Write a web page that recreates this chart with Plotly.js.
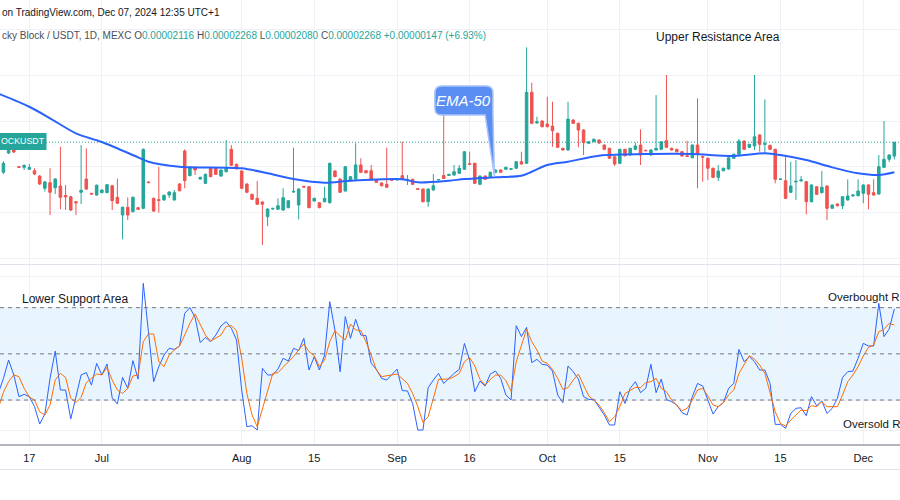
<!DOCTYPE html>
<html>
<head>
<meta charset="utf-8">
<script src="https://cdn.plot.ly/plotly-3.0.1.min.js"></script>
<style>html,body{margin:0;padding:0;background:#fff;}#chart{width:900px;height:500px;}</style>
</head>
<body>
<div id="chart"></div>
<script>
// ---- data (prices in units of 1e-6 USDT), bar index 0 = Jun 17 ----
const firstBar = -5;
const openP = [19.39,21.50,22.37,20.00,19.93,19.72,19.56,18.98,17.64,18.25,17.70,17.89,16.85,16.72,16.17,17.20,18.65,17.09,16.90,17.16,17.16,17.92,16.65,14.72,15.56,15.08,15.52,15.45,18.33,16.54,16.39,16.36,16.90,16.36,18.11,21.72,19.02,19.93,18.65,18.18,19.86,19.86,18.98,19.45,21.90,20.26,19.53,18.11,16.98,16.54,16.14,14.53,15.37,15.34,15.26,15.52,17.23,15.81,17.85,17.81,16.25,16.06,16.17,16.06,19.53,18.65,17.34,18.47,18.65,20.19,19.56,19.56,18.55,18.22,18.07,18.58,18.55,19.02,18.52,18.62,17.60,17.56,16.17,17.45,18.55,19.04,19.04,19.09,19.28,19.72,20.33,20.37,18.07,18.98,18.91,19.39,19.64,19.72,19.72,19.83,20.55,20.37,28.14,24.78,25.00,24.67,24.45,23.65,22.01,21.83,25.11,24.75,24.02,22.56,22.74,22.92,22.37,22.01,21.09,20.37,21.90,21.28,21.90,22.37,21.79,21.28,21.83,21.90,22.84,22.01,21.90,21.64,21.20,20.98,22.37,21.12,20.92,19.83,18.84,19.56,19.75,20.92,21.36,22.81,22.12,22.27,23.47,22.45,22.34,21.90,18.62,18.47,17.20,18.33,18.44,18.36,16.17,17.81,17.16,17.89,15.45,15.92,15.73,16.36,16.80,16.83,17.09,18.00,17.16,17.01,19.93,20.81,21.16];
const highP = [20.62,22.92,22.92,20.08,20.24,20.30,19.83,19.09,18.44,19.83,18.76,22.19,18.00,16.80,16.25,22.37,22.01,17.12,18.05,17.52,18.10,18.00,18.69,15.65,16.65,16.75,15.60,22.00,18.40,16.62,20.00,16.95,17.30,17.45,18.20,21.90,20.02,20.02,18.90,19.25,19.95,19.95,19.72,22.92,22.37,20.35,19.60,18.20,17.05,18.44,16.22,15.45,15.50,16.54,17.64,16.36,22.08,17.65,17.90,17.90,16.62,16.14,17.81,20.45,19.60,18.73,20.08,18.98,22.56,20.92,19.63,20.19,18.62,18.30,22.08,18.62,18.70,22.74,19.09,18.70,17.60,17.60,17.62,19.20,18.65,26.02,19.25,20.19,20.19,21.72,21.64,20.45,19.05,19.05,19.47,19.72,19.72,20.00,19.85,20.62,21.64,33.06,29.19,25.47,25.08,27.66,27.11,23.73,22.08,27.11,25.20,24.83,24.10,22.80,23.08,23.00,22.45,22.08,21.15,21.97,21.97,22.08,22.63,24.09,21.85,21.90,27.84,22.80,30.03,22.08,21.97,21.72,22.84,22.45,27.48,21.20,21.00,19.90,20.19,19.90,21.05,21.43,23.03,22.88,22.52,30.03,23.55,27.37,22.40,21.97,18.70,21.20,20.55,20.73,18.98,18.44,18.08,17.88,19.53,17.96,15.88,16.00,16.80,18.62,16.98,18.62,18.08,18.08,18.62,21.28,25.00,21.36,22.68];
const lowP = [19.20,21.39,21.50,19.86,19.64,19.64,19.09,18.00,17.27,14.72,17.01,15.34,15.26,15.15,14.72,15.92,17.45,16.95,16.85,17.10,17.10,15.26,15.93,12.06,14.17,15.00,15.26,15.35,18.20,15.05,14.97,16.28,16.58,16.28,17.30,17.64,18.95,19.09,18.58,18.10,18.85,19.09,18.90,19.38,20.08,19.70,17.55,17.10,16.35,15.80,11.43,13.51,15.30,15.26,15.18,15.45,17.15,14.25,17.70,15.45,16.18,15.45,16.10,15.98,18.85,17.12,17.27,18.40,18.58,19.30,19.27,18.48,18.22,17.85,17.68,18.48,18.50,18.55,18.00,18.00,17.48,16.10,15.62,17.38,18.50,18.65,18.98,19.00,19.20,19.65,20.19,18.10,18.00,18.55,18.85,19.30,19.30,19.65,19.65,19.75,20.22,20.30,24.65,24.70,24.30,24.30,22.19,22.05,21.75,21.75,24.67,22.12,21.28,22.50,22.68,22.50,21.82,20.85,20.08,20.30,21.12,21.20,21.82,20.19,21.70,21.20,21.75,21.82,22.05,21.75,21.55,21.10,21.05,20.90,17.64,18.36,18.55,18.76,18.44,19.50,19.68,20.85,21.30,21.82,22.05,21.83,21.64,21.50,21.82,18.18,18.58,16.45,17.12,16.36,18.40,14.79,16.10,16.90,17.08,14.17,15.38,15.65,15.37,16.28,16.72,16.75,16.00,15.34,16.83,16.93,19.85,20.51,20.80];
const closeP = [20.37,22.26,21.61,19.93,20.15,19.93,19.20,18.11,18.33,17.20,18.65,16.65,16.69,15.26,16.06,17.42,17.56,17.01,17.97,17.45,18.03,16.28,16.00,15.56,14.72,16.65,15.34,21.90,18.26,15.15,16.32,16.87,17.23,17.16,17.37,18.47,19.93,19.64,18.84,19.17,18.91,19.17,19.64,19.89,20.15,19.78,17.64,17.20,16.43,15.89,15.89,15.37,15.44,15.73,16.61,16.28,17.30,17.56,17.78,15.52,16.54,15.52,16.54,20.37,18.91,17.20,20.00,18.91,20.19,19.39,19.34,18.55,18.29,17.92,17.75,18.52,18.65,18.62,18.58,18.07,17.53,16.17,17.56,17.92,18.60,18.71,19.15,19.45,19.83,21.64,20.26,18.18,18.98,18.62,19.39,19.64,19.39,19.93,19.78,20.55,20.30,28.14,24.75,24.92,24.38,24.38,23.94,22.12,21.83,25.22,24.75,24.02,22.63,22.74,23.00,22.59,21.90,20.92,20.30,21.90,21.20,22.01,22.27,21.28,21.75,21.83,22.01,22.74,22.12,21.83,21.64,21.17,21.12,22.37,21.36,21.05,19.83,18.84,19.53,19.83,20.98,21.36,22.81,21.90,22.45,23.28,22.45,22.52,21.90,18.62,18.65,16.54,17.89,18.40,18.55,16.17,18.00,16.98,17.75,15.45,15.81,15.73,16.72,16.80,16.90,17.34,18.00,16.98,16.90,20.00,20.81,21.28,22.68];

// EMA-50 readings (bar index, value)
const emaBars = [-6,0,4,9,14,21,23,29,41,46,51,57,62,72,75,81,84,90,95,97,100,104,110,120,128,136,142,145,150,155,160,164,167];
const emaVals = [28.01,26.56,25.30,23.65,22.70,21.03,20.55,20.00,19.83,19.28,18.65,18.25,18.47,18.62,18.29,18.47,18.65,18.84,19.02,19.45,20.19,20.55,21.20,21.39,21.39,21.17,21.47,21.28,20.73,19.93,19.28,19.09,19.39];

// Stochastic RSI (first value at bar -6)
const stochStart = -6;
const stochK = [24.3,34,46,36.3,22.2,23.7,22.2,15.7,4.4,10.9,34.1,51.8,26.5,26.5,7.7,21.1,36.3,37.8,29.7,43.8,36.3,43.4,21.5,17.4,34.7,27.6,45.6,33.6,95.8,64.4,31.9,41.7,49.2,53.6,52.9,55.1,76.3,80.0,73.7,57.3,60.7,57.9,62.2,68.1,70.9,66.6,59.0,26.5,2.7,3.3,0.5,40.6,36.3,36.3,40.1,47.1,45.3,53.6,52.1,60.1,39.5,48.2,39.5,49.2,83.9,65.5,38.4,74.2,60.1,72.4,62.2,61.8,43.8,39.9,34.1,33.0,36.3,40.1,26.1,25.9,17.8,0.5,0.5,28.0,33.0,37.3,30.8,34.1,37.3,39.9,56.8,46.0,25.4,32.3,29.1,36.9,38.8,34.1,23.3,20.0,68.3,61.2,67.2,44.3,46.4,43.2,42.7,38.8,23.3,18.3,42.1,38.4,33.6,22.2,20.4,20.4,15.7,10.3,3.8,3.8,25.4,17.8,27.6,31.9,24.8,27.6,43.2,24.8,33.6,20.4,18.9,16.8,11.8,10.3,22.2,30.8,29.1,20.0,10.9,15.7,18.3,27.6,30.8,52.9,44.9,48.2,44.9,39.5,39.5,30.8,4.2,4.2,1.6,11.3,14.6,15.0,9.8,22.2,16.3,19.4,11.3,14.6,21.1,34.7,38.4,38.8,47.1,56.8,55.1,55.1,82.8,61.2,66.1,79.1];
const stochD = [14.6,25,32,36.3,35.2,27.6,22.0,20.0,12.4,10.3,16.8,33.0,37.3,34.7,21.1,18.3,21.7,31.3,34.1,36.9,36.3,41.2,33.0,26.5,24.3,27.6,35.6,36.3,57.9,62.9,62.9,44.9,41.7,49.2,52.5,55.1,62.2,69.8,75.9,68.7,62.2,58.3,60.1,62.2,67.7,68.3,65.1,47.1,24.3,10.3,2.7,14.6,25.9,37.3,37.8,41.2,44.9,48.2,52.5,56.4,51.4,48.8,41.7,46.0,57.9,65.1,61.6,59.0,69.4,65.5,65.1,57.9,49.2,39.5,35.2,35.6,36.3,36.9,34.1,30.8,24.3,15.7,5.5,9.2,21.1,33.4,33.6,33.6,35.2,37.3,44.9,47.7,42.1,33.4,29.7,33.4,36.2,36.2,32.6,25.8,44.9,54.7,65.9,57.9,52.5,45.3,43.8,39.9,34.1,26.9,28.0,33.0,36.9,29.7,22.6,20.0,16.8,11.8,5.9,9.2,15.7,24.3,26.5,28.2,28.0,31.3,31.9,34.1,27.6,25.4,20.0,16.3,13.1,14.6,20.0,26.5,27.6,22.6,16.8,15.7,18.3,23.3,26.5,37.3,43.4,48.8,46.6,42.7,37.3,25.4,12.4,4.8,3.1,7.0,10.3,13.5,13.1,16.3,15.7,18.9,15.7,15.7,15.7,23.3,31.9,36.2,41.7,48.6,54.2,55.7,64.4,65.9,69.8,68.7];

// time-axis ticks
const tickBars = [0,14,41,55,71,85,100,114,131,145,161];
const tickLabels = ['17','Jul','Aug','15','Sep','16','Oct','15','Nov','15','Dec'];

// ---- build ----
const bars = openP.map((_, k) => firstBar + k);
const stochBars = stochK.map((_, k) => stochStart + k);
const W = 900, H = 500;
const px = v => v / W, py = v => 1 - v / H;
const FONT = 'Liberation Sans, Arial, sans-serif';
const GRID = '#eef1f6';

const traces = [
  {type:'candlestick', x:bars, open:openP, high:highP, low:lowP, close:closeP,
   xaxis:'x', yaxis:'y', whiskerwidth:0,
   increasing:{line:{color:'#26a69a', width:1}, fillcolor:'#26a69a'},
   decreasing:{line:{color:'#ef5350', width:1}, fillcolor:'#ef5350'},
   hoverinfo:'skip', showlegend:false},
  {type:'scatter', mode:'lines', x:emaBars, y:emaVals, xaxis:'x', yaxis:'y',
   line:{color:'#2962ff', width:2, shape:'spline', smoothing:0.8}, hoverinfo:'skip', showlegend:false},
  {type:'scatter', mode:'lines', x:stochBars, y:stochK, xaxis:'x', yaxis:'y2',
   line:{color:'#2962ff', width:1}, hoverinfo:'skip', showlegend:false},
  {type:'scatter', mode:'lines', x:stochBars, y:stochD, xaxis:'x', yaxis:'y2',
   line:{color:'#ff6d00', width:1}, hoverinfo:'skip', showlegend:false}
];

// callout box (data coords)
const cx0 = 78.3, cx1 = 89.5, cyT = 28.83, cyB = 25.66, rx = 1.3, ry = 0.75;
const tipX = 89.8, tipY = 18.91, baseL = 88.0;
const calloutPath = `M ${cx0+rx},${cyT} L ${cx1-rx},${cyT} Q ${cx1},${cyT} ${cx1},${cyT-ry} L ${cx1},${cyB} L ${tipX},${tipY} L ${baseL},${cyB} L ${cx0+rx},${cyB} Q ${cx0},${cyB} ${cx0},${cyB+ry} L ${cx0},${cyT-ry} Q ${cx0},${cyT} ${cx0+rx},${cyT} Z`;

const lastClose = closeP[closeP.length - 1];
const teal = '#26a69a';

const shapes = [
  {type:'rect', xref:'paper', yref:'y2', x0:0, x1:1, y0:20, y1:80, fillcolor:'rgba(33,150,243,0.1)', line:{width:0}, layer:'below'},
  {type:'line', xref:'paper', yref:'y2', x0:0, x1:1, y0:80, y1:80, line:{color:'#787b86', width:1, dash:'4px,4px'}},
  {type:'line', xref:'paper', yref:'y2', x0:0, x1:1, y0:50, y1:50, line:{color:'#787b86', width:1, dash:'4px,4px'}},
  {type:'line', xref:'paper', yref:'y2', x0:0, x1:1, y0:20, y1:20, line:{color:'#787b86', width:1, dash:'4px,4px'}},
  {type:'line', xref:'paper', yref:'y', x0:px(46), x1:1, y0:lastClose, y1:lastClose, line:{color:teal, width:1, dash:'1px,2px'}},
  {type:'line', xref:'paper', yref:'paper', x0:0, x1:1, y0:py(264.5), y1:py(264.5), line:{color:'#e0e3eb', width:1}},
  {type:'line', xref:'paper', yref:'paper', x0:0, x1:1, y0:py(445), y1:py(445), line:{color:'#b2b5be', width:2}},
  {type:'line', xref:'paper', yref:'paper', x0:0, x1:1, y0:py(469.5), y1:py(469.5), line:{color:'#e0e3eb', width:1}},
  {type:'rect', xref:'paper', yref:'paper', x0:0, x1:px(46.5), y0:py(150), y1:py(133), fillcolor:teal, line:{width:0}},
  {type:'path', xref:'x', yref:'y', path:calloutPath, fillcolor:'#5b8ef2', line:{color:'#a9c4f7', width:1.5}, layer:'above'}
];

const txt = (text, x, y, size, xanchor, extra) => Object.assign({
  text, xref:'paper', yref:'paper', x:px(x), y:py(y), xanchor, yanchor:'middle',
  showarrow:false, font:{family:FONT, size, color:'#131722'}
}, extra || {});

const val = s => '<span style="color:' + teal + '">' + s + '</span>';
const hdr2 = 'cky Block / USDT, 1D, MEXC O' + val('0.00002116') + ' H' + val('0.00002268') + ' L' + val('0.00002080') + ' C' + val('0.00002268') + ' ' + val('+0.00000147 (+6.93%)');

const annotations = [
  txt('on TradingView.com, Dec 07, 2024 12:35 UTC+1', 0, 12, 10, 'left'),
  txt(hdr2, 0, 36, 10, 'left', {font:{family:FONT, size:10, color:'#4a4e59'}}),
  txt('Upper Resistance Area', 718, 37, 12, 'center'),
  txt('Lower Support Area', 20, 299, 12, 'left'),
  txt('Overbought R', 826, 297, 11.5, 'left'),
  txt('Oversold R', 841, 424, 11.5, 'left'),
  txt('OCKUSDT', -1, 141.5, 8.8, 'left', {font:{family:FONT, size:8.8, color:'#ffffff'}}),
  {text:'<i>EMA-50</i>', xref:'x', yref:'y', x:(cx0+cx1)/2, y:(cyT+cyB)/2, showarrow:false,
   xanchor:'center', yanchor:'middle', font:{family:FONT, size:15, color:'#ffffff'}}
];

const layout = {
  width:W, height:H, margin:{l:0, r:0, t:0, b:0},
  paper_bgcolor:'#ffffff', plot_bgcolor:'#ffffff', showlegend:false,
  xaxis:{domain:[0,1], range:[-5.66, 168.09], anchor:'y2', tickmode:'array', tickvals:tickBars, ticktext:tickLabels,
         showgrid:true, gridcolor:GRID, gridwidth:1, zeroline:false, showline:false, ticks:'', ticklabelstandoff:5,
         tickfont:{family:FONT, size:11, color:'#131722'}, rangeslider:{visible:false}, fixedrange:true},
  yaxis:{domain:[py(264), 1], range:[9.356, 38.24], tickmode:'array', tickvals:[10,15,20,25,30,35],
         showticklabels:false, showgrid:true, gridcolor:GRID, zeroline:false, showline:false, ticks:'', fixedrange:true},
  yaxis2:{domain:[py(445), py(265)], range:[-9.2, 107.7], tickmode:'array', tickvals:[0,20,40,60,80,100],
          showticklabels:false, showgrid:true, gridcolor:GRID, zeroline:false, showline:false, ticks:'', fixedrange:true},
  shapes, annotations
};

Plotly.newPlot('chart', traces, layout, {displayModeBar:false, staticPlot:true});
</script>
</body>
</html>
